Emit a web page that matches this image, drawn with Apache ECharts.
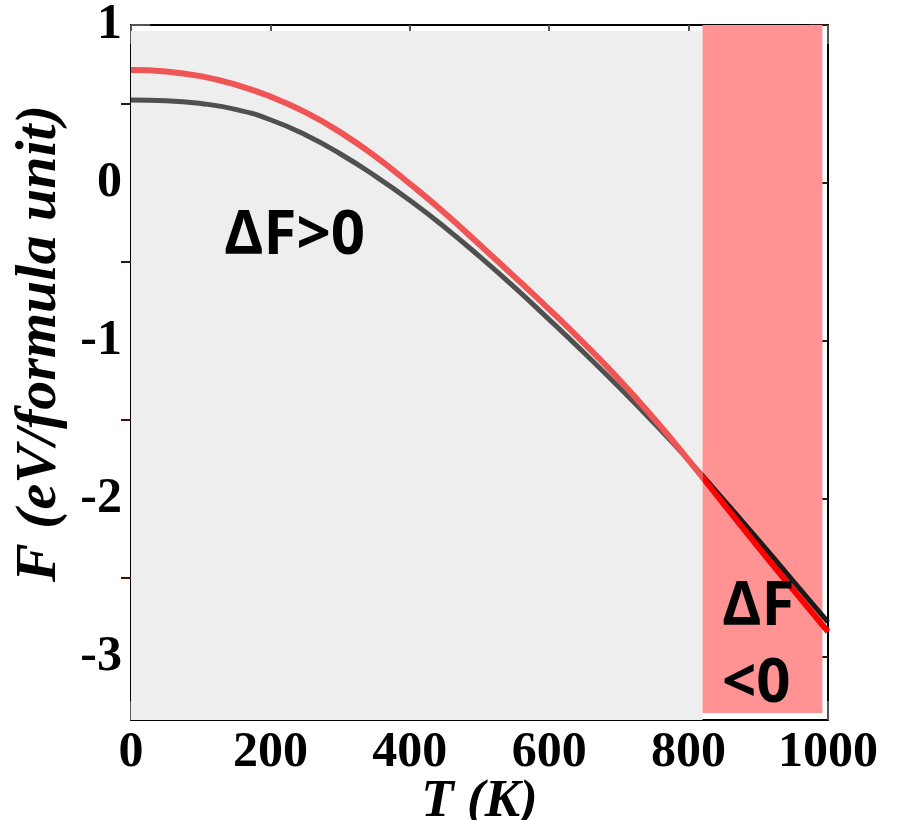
<!DOCTYPE html>
<html>
<head>
<meta charset="utf-8">
<script src="https://cdn.jsdelivr.net/npm/echarts@6/dist/echarts.min.js"></script>
<style>
html,body{margin:0;padding:0;background:#fff;}
#chart{width:900px;height:820px;}
</style>
</head>
<body>
<div id="chart"></div>
<script>
// ---- data ----
var temps = [0,50,100,150,200,250,300,350,400,450,500,550,600,650,700,750,800,850,900,950,1000];
var fRed   = [0.715,0.706,0.676,0.622,0.547,0.448,0.322,0.170,-0.005,-0.190,-0.390,-0.593,-0.800,-1.015,-1.243,-1.490,-1.755,-2.030,-2.305,-2.575,-2.840];
var fBlack = [0.525,0.521,0.503,0.466,0.400,0.305,0.185,0.045,-0.110,-0.280,-0.465,-0.660,-0.865,-1.075,-1.292,-1.518,-1.755,-2.005,-2.260,-2.520,-2.780];
var xTicks = [0,200,400,600,800,1000];
var yMajor = [-3,-2,-1,0,1];
var yMinor = [-2.5,-1.5,-0.5,0.5];
var xRange = [0,1000];
var yRange = [-3.4,1];
// shaded regions (data coordinates): [x0, y0, x1, y1]
var posRegion = [0, 0.962, 820, -3.4];
var negRegion = [820, 1.0, 992, -3.355];
var splitT = 820;

var serif = '"Liberation Serif","DejaVu Serif",serif';
var sans = '"Open Sans","DejaVu Sans",sans-serif';

function pairs(ys){ return temps.map(function(t,i){ return [t, ys[i]]; }); }

var grid = {left:131, top:25, width:697, height:695, outerBoundsMode:'none', containLabel:false};
var tickColor = '#555';

var chart = echarts.init(document.getElementById('chart'), null, {renderer:'canvas'});
var option = {
  animation:false,
  backgroundColor:'#fff',
  grid: grid,
  xAxis: [
    {type:'value', position:'bottom', min:xRange[0], max:xRange[1], interval:200,
     axisLine:{show:true, onZero:false, lineStyle:{color:'#000', width:2}},
     axisTick:{show:true, inside:true, length:19, lineStyle:{color:tickColor, width:2}},
     axisLabel:{show:true, margin:8, color:'#000', fontFamily:serif, fontWeight:'bold', fontSize:50,
                formatter:function(v){ return String(v); }},
     splitLine:{show:false},
     name:'T (K)', nameLocation:'middle', nameGap:56, nameMoveOverlap:false,
     nameTextStyle:{color:'#000', fontFamily:serif, fontWeight:'bold', fontStyle:'italic', fontSize:53}
    },
    {type:'value', position:'top', min:xRange[0], max:xRange[1], interval:200,
     axisLine:{show:true, onZero:false, lineStyle:{color:'#000', width:2}},
     axisTick:{show:true, inside:true, length:19, lineStyle:{color:tickColor, width:2}},
     axisLabel:{show:false}, splitLine:{show:false}
    }
  ],
  yAxis: [
    {type:'value', position:'left', min:yRange[0], max:yRange[1],
     axisLine:{show:true, onZero:false, lineStyle:{color:'#000', width:2}},
     axisTick:{show:true, inside:true, length:19, customValues:yMajor, lineStyle:{color:tickColor, width:2}},
     axisLabel:{show:true, margin:9, customValues:yMajor, color:'#000', fontFamily:serif, fontWeight:'bold', fontSize:50},
     splitLine:{show:false},
     name:'F (eV/formula unit)', nameLocation:'middle', nameGap:62, nameRotate:90,
     nameTextStyle:{color:'#000', fontFamily:serif, fontWeight:'bold', fontStyle:'italic', fontSize:58,
                    padding:[0,0,0,58]}
    },
    {type:'value', position:'left', min:yRange[0], max:yRange[1],
     axisLine:{show:false},
     axisTick:{show:true, inside:true, length:10, customValues:yMinor, lineStyle:{color:tickColor, width:2}},
     axisLabel:{show:false}, splitLine:{show:false}
    },
    {type:'value', position:'right', min:yRange[0], max:yRange[1],
     axisLine:{show:true, onZero:false, lineStyle:{color:'#000', width:2}},
     axisTick:{show:true, inside:true, length:19, customValues:yMajor, lineStyle:{color:'#3a1010', width:2}},
     axisLabel:{show:false}, splitLine:{show:false}
    },
    {type:'value', position:'right', min:yRange[0], max:yRange[1],
     axisLine:{show:false},
     axisTick:{show:true, inside:true, length:10, customValues:yMinor, lineStyle:{color:'#3a1010', width:2}},
     axisLabel:{show:false}, splitLine:{show:false}
    }
  ],
  series: [
    {type:'line', data:[], silent:true, z:1, showSymbol:false,
     markArea:{silent:true, data:[
       [{coord:[posRegion[0],posRegion[1]], itemStyle:{color:'#eeeeee'}},{coord:[posRegion[2],posRegion[3]]}],
       [{coord:[negRegion[0],negRegion[1]], itemStyle:{color:'#ff9393'}},{coord:[negRegion[2],negRegion[3]]}]
     ]}
    },
    {name:'black', type:'line', data:pairs(fBlack), smooth:true, showSymbol:false, z:3,
     lineStyle:{width:5, color:'#505050'}},
    {name:'red', type:'line', data:pairs(fRed), smooth:true, showSymbol:false, z:4,
     lineStyle:{width:5, color:'#f05555'}}
  ],
  graphic: [
    {type:'text', left:224, top:207, z:10,
     style:{text:'ΔF>0', fill:'#000', font:'bold 60px ' + sans}},
    {type:'text', left:722, top:578, z:10,
     style:{text:'ΔF', fill:'#000', font:'bold 60px ' + sans}},
    {type:'text', left:722, top:655, z:10,
     style:{text:'<0', fill:'#000', font:'bold 60px ' + sans}}
  ]
};
chart.setOption(option);

// colour change of the curves at the split temperature (hard gradient stop)
var x0 = chart.convertToPixel({xAxisIndex:0}, xRange[0]);
var x1 = chart.convertToPixel({xAxisIndex:0}, xRange[1]);
var xs = chart.convertToPixel({xAxisIndex:0}, splitT);
function hardGrad(c1, c2){
  var p = (xs - x0) / (x1 - x0);
  return {type:'linear', x:x0, y:0, x2:x1, y2:0, global:true,
          colorStops:[{offset:0,color:c1},{offset:p,color:c1},{offset:p,color:c2},{offset:1,color:c2}]};
}
chart.setOption({series:[
  {},
  {lineStyle:{color:hardGrad('#505050','#1a1a1a'), width:5}},
  {lineStyle:{color:hardGrad('#f05555','#ff0000'), width:6}}
]});
</script>
</body>
</html>
